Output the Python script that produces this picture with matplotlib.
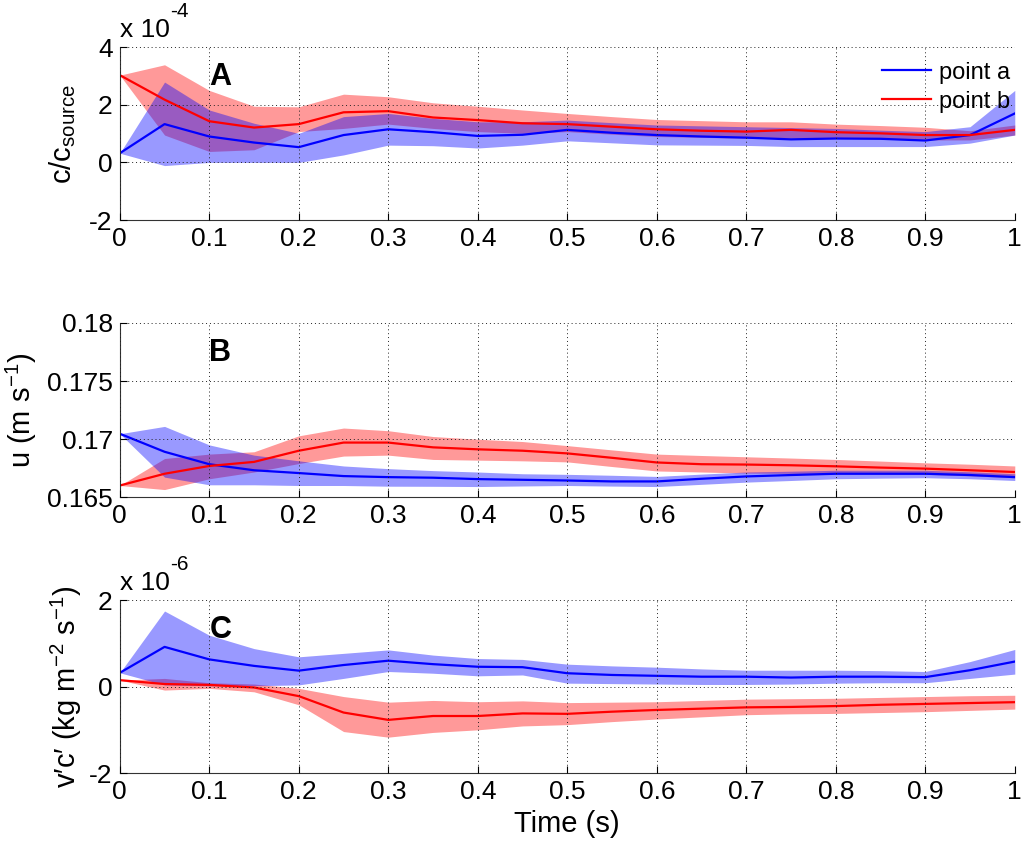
import matplotlib.pyplot as plt
import numpy as np

plt.rcParams["font.family"] = ["Liberation Sans", "DejaVu Sans"]
plt.rcParams["mathtext.default"] = "regular"
plt.rcParams["axes.unicode_minus"] = False

time_s = [0.0, 0.05, 0.1, 0.15, 0.2, 0.25, 0.3, 0.35, 0.4, 0.45, 0.5,
          0.55, 0.6, 0.65, 0.7, 0.75, 0.8, 0.85, 0.9, 0.95, 1.0]

# panel A, c/c_source in units of 1e-4
conc_a = [0.32, 1.33, 0.90, 0.69, 0.53, 0.95, 1.15, 1.05, 0.92, 0.96, 1.13,
          1.03, 0.95, 0.90, 0.86, 0.80, 0.83, 0.82, 0.76, 0.95, 1.70]
conc_a_hi = [0.32, 2.79, 1.82, 1.36, 1.01, 1.59, 1.70, 1.53, 1.41, 1.41, 1.47,
             1.38, 1.30, 1.27, 1.24, 1.21, 1.18, 1.12, 1.07, 1.24, 2.50]
conc_a_lo = [0.32, -0.11, 0.00, 0.00, 0.00, 0.26, 0.60, 0.58, 0.50, 0.60, 0.75,
             0.68, 0.61, 0.60, 0.59, 0.55, 0.55, 0.55, 0.55, 0.67, 0.95]
conc_b = [3.03, 2.18, 1.43, 1.21, 1.33, 1.74, 1.78, 1.56, 1.47, 1.36, 1.33,
          1.24, 1.15, 1.10, 1.07, 1.13, 1.05, 1.01, 0.95, 0.95, 1.13]
conc_b_hi = [3.03, 3.39, 2.50, 1.95, 1.93, 2.37, 2.28, 2.07, 1.95, 1.82, 1.70,
             1.59, 1.49, 1.45, 1.41, 1.41, 1.33, 1.28, 1.22, 1.10, 1.30]
conc_b_lo = [3.03, 0.95, 0.38, 0.44, 1.07, 1.18, 1.33, 1.18, 1.07, 1.01, 1.07,
             0.98, 0.90, 0.87, 0.84, 0.84, 0.84, 0.81, 0.78, 0.78, 0.95]

# panel B, u (m/s)
vel_a = [0.17047, 0.16892, 0.16785, 0.16733, 0.16709, 0.16683, 0.16674, 0.16669,
         0.16657, 0.16651, 0.16645, 0.16637, 0.16637, 0.16660, 0.16680, 0.16692,
         0.16703, 0.16703, 0.16703, 0.16692, 0.16674]
vel_a_hi = [0.17047, 0.17110, 0.16951, 0.16863, 0.16814, 0.16770, 0.16747, 0.16730,
            0.16718, 0.16703, 0.16698, 0.16690, 0.16680, 0.16700, 0.16718, 0.16725,
            0.16733, 0.16733, 0.16733, 0.16720, 0.16703]
vel_a_lo = [0.17047, 0.16674, 0.16608, 0.16608, 0.16602, 0.16602, 0.16596, 0.16595,
            0.16593, 0.16598, 0.16602, 0.16597, 0.16593, 0.16612, 0.16631, 0.16645,
            0.16660, 0.16665, 0.16669, 0.16660, 0.16645]
vel_b = [0.16602, 0.16703, 0.16770, 0.16805, 0.16901, 0.16971, 0.16971, 0.16930,
         0.16913, 0.16901, 0.16878, 0.16840, 0.16800, 0.16785, 0.16782, 0.16776,
         0.16767, 0.16756, 0.16747, 0.16733, 0.16718]
vel_b_hi = [0.16602, 0.16834, 0.16872, 0.16892, 0.17029, 0.17096, 0.17073, 0.17023,
            0.17000, 0.16980, 0.16945, 0.16908, 0.16872, 0.16860, 0.16849, 0.16838,
            0.16826, 0.16812, 0.16797, 0.16785, 0.16770]
vel_b_lo = [0.16602, 0.16567, 0.16660, 0.16718, 0.16791, 0.16855, 0.16863, 0.16826,
            0.16820, 0.16814, 0.16805, 0.16765, 0.16727, 0.16718, 0.16709, 0.16706,
            0.16703, 0.16700, 0.16698, 0.16685, 0.16669]

# panel C, v'c' in units of 1e-6
flux_a = [0.32, 0.92, 0.63, 0.48, 0.37, 0.50, 0.60, 0.52, 0.46, 0.45, 0.31,
          0.27, 0.25, 0.23, 0.23, 0.21, 0.23, 0.23, 0.22, 0.38, 0.58]
flux_a_hi = [0.32, 1.75, 1.19, 0.88, 0.69, 0.77, 0.85, 0.73, 0.65, 0.63, 0.52,
             0.48, 0.45, 0.41, 0.38, 0.38, 0.38, 0.37, 0.35, 0.58, 0.86]
flux_a_lo = [0.32, 0.04, 0.02, 0.02, 0.04, 0.19, 0.35, 0.31, 0.25, 0.27, 0.08,
             0.07, 0.06, 0.05, 0.05, 0.06, 0.08, 0.09, 0.09, 0.19, 0.29]
flux_b = [0.15, 0.06, 0.04, -0.02, -0.22, -0.60, -0.77, -0.68, -0.68, -0.62, -0.63,
          -0.58, -0.54, -0.51, -0.48, -0.47, -0.45, -0.42, -0.40, -0.38, -0.36]
flux_b_hi = [0.15, 0.19, 0.09, 0.06, -0.04, -0.23, -0.36, -0.32, -0.35, -0.33, -0.37,
             -0.36, -0.35, -0.32, -0.29, -0.28, -0.27, -0.25, -0.23, -0.21, -0.20]
flux_b_lo = [0.15, -0.08, -0.04, -0.12, -0.42, -1.04, -1.17, -1.06, -1.00, -0.91, -0.88,
             -0.81, -0.75, -0.70, -0.65, -0.63, -0.62, -0.60, -0.58, -0.55, -0.52]

x_ticks = [0, 0.1, 0.2, 0.3, 0.4, 0.5, 0.6, 0.7, 0.8, 0.9, 1.0]
x_labels = ["0", "0.1", "0.2", "0.3", "0.4", "0.5", "0.6", "0.7", "0.8", "0.9", "1"]

BLUE = "#0000ff"
RED = "#ff0000"
FS = 19
LABEL_FS = 21

fig = plt.figure(figsize=(10.24, 8.43), dpi=100)
boxes = [(0.117, 0.739, 0.874, 0.205),
         (0.117, 0.410, 0.874, 0.207),
         (0.117, 0.083, 0.874, 0.205)]
axes = [fig.add_axes(b) for b in boxes]

panels = [
    (conc_a, conc_a_lo, conc_a_hi, conc_b, conc_b_lo, conc_b_hi),
    (vel_a, vel_a_lo, vel_a_hi, vel_b, vel_b_lo, vel_b_hi),
    (flux_a, flux_a_lo, flux_a_hi, flux_b, flux_b_lo, flux_b_hi),
]

t = np.array(time_s)
for ax, (ya, ya_lo, ya_hi, yb, yb_lo, yb_hi) in zip(axes, panels):
    ax.fill_between(t, yb_lo, yb_hi, color=RED, alpha=0.4, linewidth=0)
    ax.fill_between(t, ya_lo, ya_hi, color=BLUE, alpha=0.4, linewidth=0)
    ax.plot(t, ya, color=BLUE, linewidth=1.6, label="point a")
    ax.plot(t, yb, color=RED, linewidth=1.6, label="point b")
    ax.set_xlim(0, 1)
    ax.set_xticks(x_ticks)
    ax.set_xticklabels(x_labels)
    ax.grid(True, linestyle=(0, (1, 3)), color="#222222", linewidth=0.7)
    ax.set_axisbelow(False)
    for side in ("top", "right"):
        ax.spines[side].set_visible(False)
    for side in ("left", "bottom"):
        ax.spines[side].set_color("#333333")
    ax.tick_params(direction="in", labelsize=FS, length=5, width=0.8, pad=5)

ax_a, ax_b, ax_c = axes

ax_a.set_ylim(-2, 4)
ax_a.set_yticks([-2, 0, 2, 4])
ax_a.set_ylabel("c/c$_{source}$", fontsize=LABEL_FS, labelpad=8)
ax_a.text(0.0, 1.03, "x 10", transform=ax_a.transAxes, fontsize=FS, ha="left", va="bottom")
ax_a.text(0.056, 1.15, "-4", transform=ax_a.transAxes, fontsize=FS - 4, ha="left", va="bottom")
ax_a.text(0.1, 0.78, "A", transform=ax_a.transAxes, fontsize=22, fontweight="bold")
ax_a.legend(loc="upper right", frameon=False, fontsize=17, handlelength=2.1,
            handletextpad=0.3, labelspacing=0.3, bbox_to_anchor=(1.018, 1.04))

ax_b.set_ylim(0.165, 0.18)
ax_b.set_yticks([0.165, 0.17, 0.175, 0.18])
ax_b.set_yticklabels(["0.165", "0.17", "0.175", "0.18"])
ax_b.set_ylabel("u (m s$^{-1}$)", fontsize=LABEL_FS, labelpad=6)
ax_b.text(0.1, 0.78, "B", transform=ax_b.transAxes, fontsize=22, fontweight="bold")

ax_c.set_ylim(-2, 2)
ax_c.set_yticks([-2, 0, 2])
ax_c.set_ylabel("v\u2032c\u2032 (kg m$^{-2}$ s$^{-1}$)", fontsize=LABEL_FS, labelpad=4)
ax_c.text(0.0, 1.03, "x 10", transform=ax_c.transAxes, fontsize=FS, ha="left", va="bottom")
ax_c.text(0.056, 1.15, "-6", transform=ax_c.transAxes, fontsize=FS - 4, ha="left", va="bottom")
ax_c.text(0.1, 0.78, "C", transform=ax_c.transAxes, fontsize=22, fontweight="bold")
ax_c.set_xlabel("Time (s)", fontsize=LABEL_FS, labelpad=4)

fig.savefig("out.png", dpi=100)
